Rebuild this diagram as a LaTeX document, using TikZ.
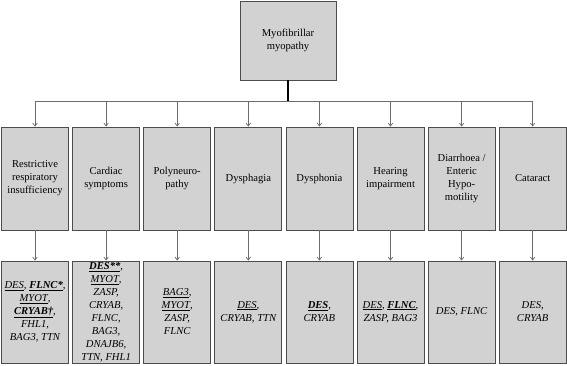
\documentclass[tikz,border=0pt]{standalone}
\usepackage{fontspec}
\setmainfont{Liberation Serif}
\usetikzlibrary{arrows.meta}
\newcommand{\gu}[1]{\underline{#1}}
\newcommand{\gb}[1]{\underline{\textbf{#1}}}
\tikzset{
  box/.style={rectangle, fill=gray!35, draw=gray!60!black, line width=0.8pt,
    minimum width=67pt, align=center, inner sep=1pt,
    font=\fontsize{10.6}{13}\selectfont},
  topbox/.style={box, minimum width=96pt, minimum height=79pt},
  sbox/.style={box, minimum height=103pt},
  gbox/.style={box, minimum height=102pt, font=\fontsize{10.6}{13}\selectfont\itshape},
  conn/.style={draw=gray!85!black, line width=0.7pt},
  arr/.style={conn, -{Straight Barb[length=3pt,width=4.5pt]}},
}
\begin{document}
\begin{tikzpicture}[x=1pt,y=-1pt]
\useasboundingbox (0,0) rectangle (567,366);
\node[topbox] (top) at (288,40.5) {Myofibrillar\\myopathy};
\node[sbox] (s1) at (35,178.5) {Restrictive\\respiratory\\insufficiency};
\node[sbox] (s2) at (106.1,178.5) {Cardiac\\symptoms};
\node[sbox] (s3) at (177.2,178.5) {Polyneuro-\\pathy};
\node[sbox] (s4) at (248.3,178.5) {Dysphagia};
\node[sbox] (s5) at (319.4,178.5) {Dysphonia};
\node[sbox] (s6) at (390.5,178.5) {Hearing\\impairment};
\node[sbox] (s7) at (461.6,178.5) {Diarrhoea /\\Enteric\\Hypo-\\motility};
\node[sbox] (s8) at (532.7,178.5) {Cataract};
\node[gbox] (g1) at (35,312) {\gu{DES}, \gb{FLNC*},\\\gu{MYOT},\\\gb{CRYAB\textdagger},\\FHL1,\\BAG3, TTN};
\node[gbox] (g2) at (106.1,312) {\gb{DES**},\\\gu{MYOT},\\ZASP,\\CRYAB,\\FLNC,\\BAG3,\\DNAJB6,\\TTN, FHL1};
\node[gbox] (g3) at (177.2,312) {\gu{BAG3},\\\gu{MYOT},\\ZASP,\\FLNC};
\node[gbox] (g4) at (248.3,312) {\gu{DES},\\CRYAB, TTN};
\node[gbox] (g5) at (319.4,312) {\gb{DES},\\CRYAB};
\node[gbox] (g6) at (390.5,312) {\gu{DES}, \gb{FLNC},\\ZASP, BAG3};
\node[gbox] (g7) at (461.6,312) {DES, FLNC};
\node[gbox] (g8) at (532.7,312) {DES,\\CRYAB};
\coordinate (bus) at (288,101);
\draw[line width=1.3pt, black] (top.south) -- (bus);
\draw[conn] (bus -| s1.north) -- (bus -| s8.north);
\foreach \i in {1,...,8} {
  \draw[arr] (bus -| s\i.north) -- (s\i.north);
  \draw[arr] (s\i.south) -- (g\i.north);
}
\end{tikzpicture}
\end{document}
